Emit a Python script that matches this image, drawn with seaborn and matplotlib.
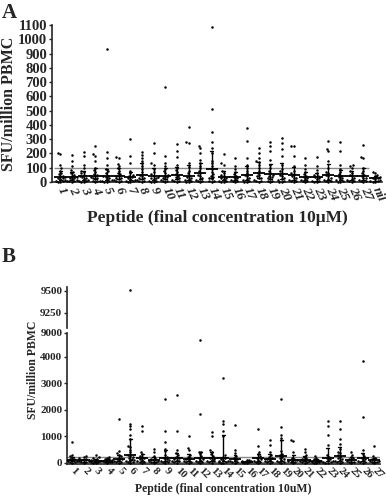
import warnings
import numpy as np
import pandas as pd
import matplotlib
matplotlib.use('Agg')
import matplotlib.pyplot as plt
import seaborn as sns

warnings.filterwarnings('ignore')

# panel A : SFU per million PBMC for each peptide (final concentration 10uM)
peptides_a = [str(i) for i in range(1, 28)] + ['nil']
sfu_a = [
    [0, 0, 5, 10, 15, 20, 25, 30, 35, 40, 45, 55, 65, 80, 95, 120, 195, 200],
    [0, 5, 5, 10, 15, 20, 25, 30, 35, 45, 50, 60, 70, 85, 110, 150, 190],
    [0, 0, 5, 10, 15, 20, 30, 35, 40, 50, 60, 70, 80, 100, 120, 185, 210],
    [0, 5, 10, 10, 20, 25, 30, 35, 40, 50, 55, 70, 85, 100, 150, 185, 195, 255],
    [0, 0, 5, 10, 15, 20, 30, 35, 40, 45, 60, 75, 90, 120, 165, 210, 930],
    [0, 5, 10, 15, 20, 25, 30, 40, 45, 55, 65, 80, 95, 110, 125, 165, 175],
    [0, 0, 5, 10, 15, 20, 25, 35, 40, 50, 60, 80, 130, 180, 300],
    [0, 5, 10, 15, 20, 25, 30, 40, 50, 70, 90, 110, 130, 150, 170, 190, 210],
    [0, 0, 5, 10, 20, 25, 30, 35, 45, 55, 70, 90, 120, 130, 205, 275],
    [0, 5, 10, 15, 20, 25, 35, 40, 50, 60, 75, 90, 110, 130, 185, 665],
    [0, 5, 10, 15, 20, 30, 35, 45, 55, 70, 85, 100, 120, 175, 220, 265],
    [0, 0, 10, 15, 20, 30, 35, 45, 60, 80, 105, 130, 270, 280, 385],
    [0, 5, 10, 15, 20, 30, 40, 50, 60, 75, 95, 115, 135, 155, 205, 240, 255],
    [0, 5, 10, 20, 25, 35, 45, 55, 70, 90, 110, 130, 150, 200, 240, 280, 350, 510, 1085],
    [0, 0, 5, 10, 20, 25, 30, 40, 50, 65, 80, 120, 130, 195],
    [0, 5, 10, 15, 20, 30, 35, 45, 55, 70, 90, 110, 170],
    [0, 0, 5, 15, 20, 30, 40, 50, 60, 80, 100, 120, 170, 290, 375],
    [0, 5, 10, 15, 25, 30, 40, 50, 65, 80, 100, 120, 140, 150, 170, 200, 240],
    [0, 5, 10, 20, 25, 35, 40, 50, 60, 75, 95, 120, 155, 215, 250, 280],
    [0, 0, 10, 15, 20, 30, 40, 50, 60, 75, 90, 120, 185, 230, 275, 305],
    [0, 5, 10, 15, 25, 30, 40, 55, 65, 80, 110, 180, 250, 255],
    [0, 5, 10, 15, 20, 30, 35, 45, 55, 70, 90, 120, 170],
    [0, 0, 5, 10, 20, 25, 35, 40, 50, 65, 85, 110, 175],
    [0, 5, 10, 15, 20, 30, 40, 50, 60, 70, 100, 150, 215, 230, 290],
    [0, 0, 5, 15, 20, 30, 35, 45, 55, 70, 90, 120, 220, 280],
    [0, 5, 10, 15, 20, 30, 40, 50, 60, 75, 95, 110, 120],
    [0, 5, 10, 15, 25, 30, 40, 50, 60, 80, 100, 170, 175, 260],
    [0, 0, 5, 10, 15, 20, 25, 30, 35, 40, 50, 60, 70],
]
cutoff_a = 100

# panel B : same read-out, second cohort (broken y axis)
peptides_b = [str(i) for i in range(1, 28)]
sfu_b = [
    [0, 20, 40, 60, 80, 100, 130, 160, 200, 250, 300, 790],
    [0, 20, 40, 60, 80, 100, 120, 150, 180, 220, 260],
    [0, 10, 30, 50, 70, 90, 110, 140, 170, 210, 280],
    [0, 20, 40, 50, 70, 90, 110, 130, 160, 200, 240],
    [0, 20, 50, 80, 100, 130, 160, 200, 250, 300, 380, 450, 1650],
    [0, 20, 40, 60, 90, 120, 150, 180, 220, 260, 300, 400, 500, 600, 640, 890, 1070, 1260, 1380, 1470, 9510],
    [0, 20, 50, 80, 110, 140, 170, 210, 260, 330, 420, 1220, 1400],
    [0, 20, 40, 60, 80, 100, 130, 170, 250, 420, 540],
    [0, 20, 40, 60, 90, 120, 150, 190, 240, 300, 440, 540, 770, 1200, 2400],
    [0, 30, 60, 90, 120, 150, 190, 240, 300, 360, 480, 1200, 2540],
    [0, 20, 50, 80, 110, 140, 180, 230, 300, 480, 570, 1010],
    [0, 20, 50, 80, 110, 150, 200, 260, 330, 400, 420, 1840, 7600],
    [0, 30, 60, 90, 120, 160, 200, 250, 320, 420, 500, 1010, 1180],
    [0, 10, 20, 40, 60, 80, 110, 150, 190, 240, 290, 1000, 1220, 1470, 1590, 3200],
    [0, 20, 50, 80, 110, 150, 200, 260, 360, 480, 1410],
    [0, 10, 20, 40, 60, 80, 100, 120],
    [0, 20, 50, 80, 110, 150, 200, 260, 330, 420, 640, 1280],
    [0, 20, 40, 70, 100, 130, 170, 220, 300, 420, 670, 850],
    [0, 20, 40, 60, 100, 140, 180, 230, 280, 350, 440, 850, 950, 1070, 1370, 2420],
    [0, 20, 40, 60, 90, 120, 160, 200, 420, 830, 850],
    [0, 20, 40, 60, 80, 110, 140, 180, 230, 300, 420, 540],
    [0, 10, 30, 50, 70, 90, 120, 150, 200, 270],
    [0, 10, 20, 50, 80, 110, 150, 190, 240, 300, 670, 1060, 1380, 1560],
    [0, 20, 40, 60, 100, 140, 180, 230, 290, 360, 420, 540, 730, 890, 1280, 1560],
    [0, 20, 40, 70, 100, 130, 170, 220, 300, 420],
    [0, 20, 50, 80, 110, 150, 200, 260, 350, 480, 1720, 3850],
    [0, 20, 40, 60, 80, 110, 150, 200, 260, 640],
]
cutoff_b = [30, 240]
yticks_b_low = [0, 1000, 2000, 3000, 4000, 9000]
yticks_b_high = [9250, 9500]

df_a = pd.DataFrame([(p, v) for p, vals in zip(peptides_a, sfu_a) for v in vals],
                    columns=['peptide', 'sfu'])
df_b = pd.DataFrame([(p, v) for p, vals in zip(peptides_b, sfu_b) for v in vals],
                    columns=['peptide', 'sfu'])

sns.set_style('ticks')
plt.rcParams['font.family'] = ['Liberation Serif', 'DejaVu Serif']
plt.rcParams['font.weight'] = 'bold'
plt.rcParams['axes.linewidth'] = 1.2
plt.rcParams['xtick.major.width'] = 1.0
plt.rcParams['ytick.major.width'] = 1.0
plt.rcParams['xtick.major.size'] = 2.5
plt.rcParams['ytick.major.size'] = 2.5


def dots_and_median(data, order, ax, size, unclip):
    sns.swarmplot(data=data, x='peptide', y='sfu', order=order, color='black',
                  size=size, ax=ax, zorder=3)
    sns.pointplot(data=data, x='peptide', y='sfu', order=order, estimator='median',
                  errorbar=('pi', 50), color='black', markers='_', linestyles='none',
                  markersize=8, markeredgewidth=1.3, capsize=0.25,
                  err_kws={'linewidth': 1.0}, ax=ax, zorder=4)
    if unclip:
        for c in ax.collections:
            c.set_clip_on(False)


fig = plt.figure(figsize=(3.86, 5.0), dpi=100)

# ---- panel A
ax_a = fig.add_axes([0.135, 0.636, 0.855, 0.314])
ax_a.hlines(cutoff_a, -0.5, 26.5, color='#888888', lw=1.0, zorder=1)
dots_and_median(df_a, peptides_a, ax_a, 1.8, True)
ax_a.set_xlim(-0.7, 27.6)
ax_a.set_ylim(0, 1100)
ax_a.set_yticks(range(0, 1101, 100))
ax_a.tick_params(axis='y', labelsize=10.5, pad=1)
ax_a.set_xticks(range(len(peptides_a)))
ax_a.set_xticklabels(peptides_a, rotation=-65, ha='left', va='center',
                     rotation_mode='anchor', style='italic', fontsize=9.5)
ax_a.tick_params(axis='x', length=0, pad=4)
ax_a.set_ylabel('SFU/million PBMC', fontsize=11.5, fontweight='bold', labelpad=1)
ax_a.set_xlabel('Peptide (final concentration 10\u03bcM)', fontsize=12.5,
                fontweight='bold', labelpad=5)
sns.despine(ax=ax_a)
fig.text(0.005, 0.995, 'A', fontsize=15, fontweight='bold', va='top')

# ---- panel B, broken axis
split, squeeze = 4000, 0.178


def fwd(y):
    y = np.asarray(y, dtype=float)
    return np.where(y <= split, y, split + (y - split) * squeeze)


def inv(t):
    t = np.asarray(t, dtype=float)
    return np.where(t <= split, t, split + (t - split) / squeeze)


ax_bt = fig.add_axes([0.174, 0.344, 0.811, 0.082])
ax_bb = fig.add_axes([0.174, 0.072, 0.811, 0.262])
ax_bb.set_yscale('function', functions=(fwd, inv))

ax_bb.hlines(cutoff_b, -0.5, 26.5, color='#888888', lw=1.0, zorder=1)
dots_and_median(df_b, peptides_b, ax_bb, 1.8, False)
sns.swarmplot(data=df_b, x='peptide', y='sfu', order=peptides_b, color='black',
              size=1.8, ax=ax_bt)

for ax in (ax_bt, ax_bb):
    ax.set_xlim(-0.45, 26.5)
    ax.set_ylabel('')
ax_bb.set_ylim(-40, 9000)
ax_bb.set_yticks(yticks_b_low)
ax_bb.set_yticklabels([str(t) for t in yticks_b_low])
ax_bb.yaxis.set_minor_locator(matplotlib.ticker.NullLocator())
ax_bb.tick_params(axis='y', labelsize=8, pad=1)
ax_bb.set_xticks(range(len(peptides_b)))
ax_bb.set_xticklabels(peptides_b, rotation=-45, ha='left', va='center',
                      rotation_mode='anchor', fontsize=8)
ax_bb.tick_params(axis='x', length=0, pad=4)
ax_bb.set_xlabel('Peptide (final concentration 10uM)', fontsize=8.5,
                 fontweight='bold', labelpad=2)
sns.despine(ax=ax_bb)

ax_bt.set_ylim(9080, 9540)
ax_bt.set_yticks(yticks_b_high)
ax_bt.tick_params(axis='y', labelsize=8, pad=1)
ax_bt.set_xticks([])
ax_bt.set_xlabel('')
sns.despine(ax=ax_bt, bottom=True)

fig.text(0.085, 1 - 370 / 500, 'SFU/million PBMC', rotation=90, fontsize=8.5,
         fontweight='bold', ha='center', va='center')
fig.text(0.005, 0.505, 'B', fontsize=15, fontweight='bold', va='top')

fig.savefig('out.png', dpi=100)
